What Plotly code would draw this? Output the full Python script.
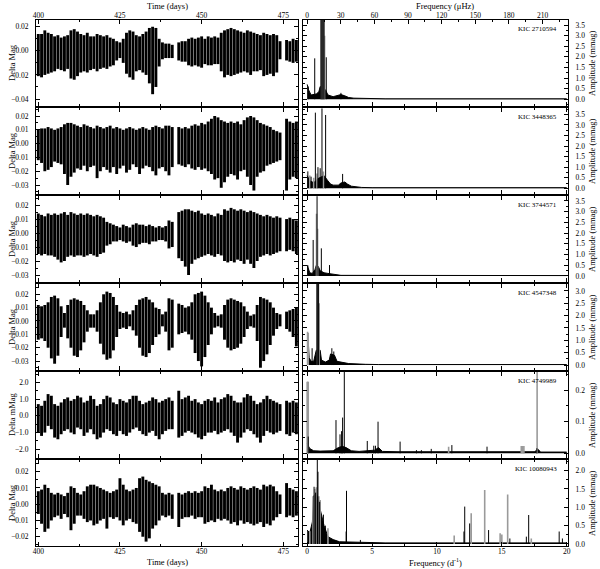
import plotly.graph_objects as go

# ---- light curves: upper / lower envelope per day (mmag), None = data gap
days = list(range(400, 480))

hi1 = [14, 14, 17, 15, 14, 12, 13, 11, 12, 13,
       17, 18, 16, 14, 13, 15, 12, 12, 14, 13,
       12, 13, 11, 10, 8, 7, 10, 15, 17, 16,
       13, 12, 14, 16, 19, 20, 19, 10, 7, 6,
       6, 5, None, 7, 8, 8, 10, 11, 10, 11,
       12, 10, 12, 11, 12, 11, 15, 17, 18, 19,
       18, 17, 16, 15, 17, 16, 15, 14, 13, 15,
       14, 13, 14, 13, 8, None, 9, 8, 10, 9]
lo1 = [-21, -22, -20, -19, -18, -17, -15, -16, -17, -15,
       -23, -24, -21, -18, -17, -18, -16, -15, -17, -15,
       -14, -15, -13, -12, -8, -6, -10, -19, -22, -24,
       -17, -16, -18, -20, -27, -36, -30, -13, -7, -6,
       -6, -6, None, -8, -9, -9, -12, -13, -12, -13,
       -14, -11, -12, -12, -11, -11, -17, -22, -20, -21,
       -20, -19, -18, -17, -18, -20, -17, -17, -16, -21,
       -20, -19, -21, -18, -7, None, -8, -9, -10, -9]

hi2 = [10, 11, 11, 12, 11, 10, 11, 12, 14, 15,
       15, 14, 13, 12, 14, 13, 12, 11, 13, 12,
       11, 12, 13, 11, 12, 11, 10, 11, 12, 11,
       10, 11, 12, 11, 10, 12, 13, 12, 11, 13,
       13, 12, None, 12, 11, 12, 11, 13, 14, 13,
       15, 14, 16, 18, 20, 19, 17, 16, 15, 16,
       15, 16, 14, 17, 19, 20, 19, 17, 15, 14,
       13, 12, 10, 9, 8, None, 18, 16, 15, 16]
lo2 = [-12, -14, -20, -19, -17, -13, -14, -15, -22, -30,
       -24, -21, -18, -19, -16, -20, -17, -16, -25, -20,
       -17, -19, -21, -17, -22, -18, -16, -21, -19, -15,
       -17, -22, -18, -16, -17, -20, -23, -18, -17, -20,
       -23, -17, None, -15, -16, -17, -15, -18, -19, -17,
       -19, -18, -20, -22, -26, -25, -32, -28, -24, -22,
       -23, -26, -20, -19, -24, -30, -34, -24, -21, -20,
       -16, -15, -14, -13, -12, None, -34, -26, -24, -25]

hi3 = [14, 13, 12, 14, 13, 14, 13, 14, 15, 13,
       15, 14, 13, 14, 13, 14, 13, 12, 13, 12,
       11, 8, 7, 6, 5, 4, 6, 5, 4, 6,
       7, 6, 6, 5, 6, 5, 4, 5, 4, 5,
       9, 8, None, 15, 16, 17, 17, 16, 15, 16,
       14, 13, 14, 13, 12, 14, 13, 17, 16, 18,
       17, 16, 17, 16, 15, 16, 15, 14, 13, 12,
       13, 12, 11, 12, 11, None, 10, 11, 10, 9]
lo3 = [-15, -16, -15, -16, -16, -17, -19, -21, -20, -17,
       -16, -17, -16, -16, -17, -16, -15, -16, -17, -15,
       -14, -9, -8, -6, -6, -5, -6, -7, -6, -9,
       -10, -8, -7, -7, -8, -6, -6, -5, -5, -6,
       -11, -10, None, -18, -20, -24, -30, -22, -19, -18,
       -17, -16, -15, -16, -17, -15, -16, -20, -21, -20,
       -21, -19, -20, -22, -19, -22, -25, -20, -17, -16,
       -15, -16, -15, -14, -13, None, -13, -12, -13, -15]

hi4 = [12, 11, 12, 14, 18, 19, 17, 11, 6, 12,
       16, 17, 16, 15, 12, 8, 5, 5, 8, 14,
       20, 22, 21, 18, 12, 7, 6, 7, 5, 8,
       12, 16, 17, 18, 16, 14, 10, 9, 5, 7,
       17, 16, None, 13, 12, 10, 11, 14, 20, 21,
       22, 19, 14, 10, 6, 4, 5, 12, 16, 17,
       16, 15, 14, 11, 7, 4, 5, 12, 18, 17,
       16, 14, 10, 6, 5, None, 7, 8, 9, 10]
lo4 = [-14, -13, -15, -20, -28, -32, -26, -12, -5, -13,
       -20, -26, -27, -22, -16, -8, -5, -5, -8, -17,
       -25, -29, -28, -22, -12, -6, -5, -6, -4, -7,
       -11, -20, -26, -27, -24, -18, -12, -10, -4, -8,
       -22, -20, None, -10, -9, -8, -10, -14, -24, -30,
       -34, -27, -18, -10, -5, -4, -5, -14, -20, -22,
       -21, -20, -17, -12, -6, -4, -5, -15, -35, -30,
       -25, -18, -11, -6, -4, None, -6, -8, -12, -19]

hi5 = [0.7, 0.6, 0.9, 1.3, 1.2, 0.7, 0.6, 0.8, 1.0, 1.1,
       0.9, 1.0, 1.2, 1.1, 0.8, 0.9, 1.2, 1.0, 0.6, 0.7,
       1.0, 1.2, 1.1, 0.8, 0.7, 1.0, 0.9, 0.8, 1.0, 1.2,
       1.2, 0.9, 0.7, 0.8, 0.9, 1.1, 1.0, 0.8, 0.9, 1.0,
       1.1, 0.9, None, 1.5, 1.0, 1.1, 1.2, 0.9, 1.0, 0.8,
       0.7, 0.9, 1.0, 0.9, 1.1, 0.8, 1.0, 1.1, 1.3, 1.2,
       0.9, 0.8, 0.8, 1.1, 1.3, 1.2, 0.9, 0.7, 0.8, 1.0,
       1.2, 1.0, 0.9, 0.8, 0.7, None, 0.9, 0.8, 0.9, 0.8]
lo5 = [-1.0, -1.2, -1.0, -0.6, -0.8, -1.3, -1.4, -1.1, -0.9, -0.8,
       -1.0, -1.1, -0.7, -0.8, -1.2, -1.0, -0.8, -1.1, -1.4, -1.3,
       -1.0, -0.8, -0.9, -1.1, -1.2, -0.9, -1.1, -1.2, -1.0, -0.8,
       -0.7, -0.9, -1.1, -1.2, -1.0, -0.9, -1.2, -1.4, -1.1, -0.9,
       -0.8, -0.8, None, -1.3, -1.2, -1.0, -0.9, -1.0, -1.1, -1.3,
       -1.4, -1.2, -1.0, -1.0, -0.9, -1.1, -1.0, -0.9, -0.8, -1.0,
       -1.2, -1.6, -1.3, -1.0, -0.8, -0.9, -1.1, -1.3, -1.6, -1.2,
       -0.9, -1.0, -1.1, -1.0, -0.9, None, -1.1, -1.2, -1.0, -1.1]

hi6 = [8, 9, 12, 10, 7, 6, 7, 6, 5, 7,
       11, 10, 7, 6, 8, 11, 12, 12, 11, 10,
       9, 8, 7, 8, 9, 16, 12, 9, 8, 9,
       10, 16, 17, 15, 14, 13, 12, 11, 7, 6,
       7, 6, None, 7, 6, 7, 8, 7, 8, 7,
       8, 11, 10, 12, 9, 8, 9, 8, 10, 11,
       10, 9, 11, 10, 9, 10, 11, 10, 9, 12,
       11, 12, 11, 8, 6, None, 13, 10, 9, 8]
lo6 = [-6, -12, -17, -15, -10, -8, -7, -9, -6, -8,
       -16, -12, -7, -7, -9, -11, -10, -13, -12, -10,
       -9, -15, -8, -9, -8, -10, -13, -10, -9, -11,
       -12, -17, -20, -23, -21, -15, -13, -10, -7, -8,
       -7, -9, None, -14, -9, -8, -8, -7, -9, -8,
       -8, -12, -11, -10, -11, -9, -10, -9, -10, -12,
       -11, -13, -10, -12, -11, -12, -13, -12, -11, -14,
       -12, -13, -10, -8, -6, None, -8, -7, -8, -7]

# ---- amplitude spectra (frequency in d^-1, amplitude in mmag)
pk1_f = [0.08, 0.58, 1.06, 1.14, 1.22, 1.30, 1.47, 2.6]
pk1_a = [0.6, 1.93, 3.9, 3.9, 3.9, 3.9, 1.98, 0.3]
gr1_f = [1.10, 1.18, 1.26, 1.34]
gr1_a = [3.9, 3.9, 3.9, 3.0]
nz1_f = [0, 0.1, 0.3, 0.5, 0.7, 0.9, 1.0, 1.4, 1.6, 2.0, 2.3, 2.6, 2.9, 3.2, 3.6, 4.5, 6, 20]
nz1_a = [0.7, 0.45, 0.2, 0.22, 0.25, 0.35, 0.6, 0.45, 0.2, 0.12, 0.16, 0.22, 0.16, 0.08, 0.05, 0.03, 0.02, 0.02]

pk2_f = [0.05, 0.3, 0.63, 0.83, 1.0, 1.14, 1.42, 2.73]
pk2_a = [0.8, 0.55, 3.58, 1.0, 0.95, 3.78, 3.47, 0.68]
gr2_f = [0.2, 0.5, 0.75, 1.25]
gr2_a = [0.6, 0.5, 0.7, 0.8]
nz2_f = [0, 0.2, 0.4, 0.6, 0.8, 1.0, 1.3, 1.6, 1.8, 2.0, 2.4, 2.6, 2.9, 3.1, 3.4, 4.2, 5, 20]
nz2_a = [0.6, 0.35, 0.3, 0.3, 0.45, 0.5, 0.6, 0.35, 0.2, 0.15, 0.15, 0.25, 0.3, 0.2, 0.1, 0.04, 0.03, 0.03]

pk3_f = [0.05, 0.46, 0.76, 1.09, 1.72]
pk3_a = [0.5, 1.68, 3.72, 1.29, 0.51]
gr3_f = [0.72, 0.8]
gr3_a = [2.9, 2.2]
nz3_f = [0, 0.2, 0.4, 0.6, 0.7, 0.85, 1.0, 1.3, 1.6, 1.8, 2.2, 2.6, 20]
nz3_a = [0.5, 0.15, 0.12, 0.3, 0.5, 0.45, 0.25, 0.15, 0.12, 0.1, 0.05, 0.03, 0.02]

pk4_f = [0.38, 0.75, 0.82, 0.88, 1.9, 2.05]
pk4_a = [0.68, 3.3, 3.3, 3.3, 0.68, 0.55]
gr4_f = [0.03, 0.08, 0.78, 0.92]
gr4_a = [1.35, 1.3, 3.3, 2.5]
nz4_f = [0, 0.05, 0.15, 0.3, 0.5, 0.6, 0.7, 1.0, 1.1, 1.4, 1.7, 1.8, 2.1, 2.3, 2.7, 3.2, 4.5, 5.5, 20]
nz4_a = [1.3, 1.3, 0.3, 0.15, 0.15, 0.4, 0.6, 0.6, 0.2, 0.12, 0.2, 0.45, 0.4, 0.15, 0.1, 0.06, 0.03, 0.02, 0.02]

pk5_f = [0.08, 2.22, 2.53, 2.65, 2.73, 2.86, 4.63, 5.13, 5.26, 5.46, 7.16, 8.42, 8.8, 9.56, 11.15, 13.86, 17.7]
pk5_a = [0.053, 0.105, 0.06, 0.07, 0.113, 0.26, 0.039, 0.024, 0.024, 0.1, 0.037, 0.01, 0.01, 0.014, 0.026, 0.021, 0.016]
gr5_f = [0.0, 0.04, 0.08, 10.9, 16.5, 16.6, 16.7, 17.72]
gr5_a = [0.226, 0.226, 0.226, 0.021, 0.023, 0.023, 0.023, 0.26]
nz5_f = [0, 0.2, 0.5, 1, 2, 2.4, 2.7, 3.0, 3.4, 4, 5.2, 5.5, 5.8, 7, 17.5, 17.8, 18, 20]
nz5_a = [0.03, 0.015, 0.008, 0.007, 0.008, 0.018, 0.022, 0.018, 0.008, 0.006, 0.01, 0.018, 0.006, 0.005, 0.005, 0.012, 0.004, 0.004]

pk6_f = [0.53, 0.65, 0.78, 0.83, 0.96, 1.25, 1.4, 3.0, 3.03, 4.1, 12.08, 12.14, 12.52, 13.98, 15.62, 16.89, 17.07, 19.42, 19.67]
pk6_a = [1.56, 1.4, 2.3, 1.97, 1.15, 0.8, 0.5, 0.34, 1.45, 0.11, 0.34, 1.02, 0.56, 0.38, 0.15, 0.2, 0.79, 0.34, 0.15]
gr6_f = [0.2, 0.45, 0.6, 0.7, 0.9, 1.0, 1.6, 11.33, 12.64, 13.68, 14.87, 15.0, 15.45, 17.27]
gr6_a = [0.35, 1.3, 1.5, 1.55, 1.3, 1.2, 0.43, 0.23, 0.84, 1.47, 0.29, 0.26, 1.35, 0.15]
nz6_f = [0, 0.2, 0.4, 0.5, 0.7, 0.9, 1.1, 1.3, 1.6, 2.0, 2.5, 3.5, 4.5, 6, 20]
nz6_a = [0.38, 0.3, 0.6, 1.3, 1.4, 1.1, 0.8, 0.5, 0.2, 0.12, 0.06, 0.05, 0.06, 0.03, 0.03]

kic = ["KIC 2710594", "KIC 3448365", "KIC 3744571", "KIC 4547348", "KIC 4749989", "KIC 10080943"]

curves = [(hi1, lo1), (hi2, lo2), (hi3, lo3), (hi4, lo4), (hi5, lo5), (hi6, lo6)]
spectra = [(pk1_f, pk1_a, gr1_f, gr1_a, nz1_f, nz1_a),
           (pk2_f, pk2_a, gr2_f, gr2_a, nz2_f, nz2_a),
           (pk3_f, pk3_a, gr3_f, gr3_a, nz3_f, nz3_a),
           (pk4_f, pk4_a, gr4_f, gr4_a, nz4_f, nz4_a),
           (pk5_f, pk5_a, gr5_f, gr5_a, nz5_f, nz5_a),
           (pk6_f, pk6_a, gr6_f, gr6_a, nz6_f, nz6_a)]

# axis settings per row
lc_scale = [1e-3, 1e-3, 1e-3, 1e-3, 1.0, 1e-3]
lc_range = [[-0.0458, 0.0256], [-0.0365, 0.0258], [-0.035, 0.0265],
            [-0.0367, 0.0277], [-2.52, 2.62], [-0.0257, 0.0272]]
lc_dtick = [0.02, 0.01, 0.01, 0.01, 1.0, 0.01]
lc_fmt = [".2f", ".2f", ".2f", ".2f", ".1f", ".2f"]
lc_title = ["Delta Mag"] * 4 + ["Delta mMag", "Delta Mag"]
sp_range = [[-0.32, 3.74], [-0.27, 3.8], [-0.28, 3.73], [-0.2, 3.28], [-0.0148, 0.257], [-0.055, 2.29]]
sp_dtick = [0.5, 0.5, 0.5, 0.5, 0.1, 0.5]

W, H = 600, 569
ML, MR, MT, MB = 36, 32, 20, 23
PW, PH = W - ML - MR, H - MT - MB
FONT = "Liberation Serif"
X_RANGE_F = [-0.3, 20.1]
UHZ = 11.574


def segs(x, lo, hi, k):
    xs, ys = [], []
    for xi, a, b in zip(x, lo, hi):
        if a is None or b is None:
            continue
        xs += [xi, xi, None]
        ys += [a * k, b * k, None]
    return xs, ys


fig = go.Figure()
ax = dict(showgrid=False, zeroline=False, showline=True, linecolor="black", linewidth=1,
          mirror="ticks", ticks="inside", ticklen=4, tickcolor="black", automargin=False,
          tickfont=dict(family=FONT, size=7.5, color="black"))
xax = dict(ax, ticklabelstandoff=-2)
yax = dict(ax, ticklabelstandoff=5)

annos = []
for i in range(6):
    top = round(1 - i * 88 / PH, 6)
    bot = max(0.0, round(top - 86 / PH, 6))
    xl, yl, xr, yr = 2 * i + 1, 2 * i + 1, 2 * i + 2, 2 * i + 2

    hi, lo = curves[i]
    xs, ys = segs(days, lo, hi, lc_scale[i])
    fig.add_trace(go.Scatter(x=xs, y=ys, mode="lines", line=dict(color="black", width=2.9),
                             xaxis=f"x{xl}", yaxis=f"y{yl}", showlegend=False, hoverinfo="skip"))

    pf, pa, gf, ga, nf, na = spectra[i]
    fig.add_trace(go.Scatter(x=nf, y=na, mode="lines", fill="tozeroy", fillcolor="black",
                             line=dict(color="black", width=1),
                             xaxis=f"x{xr}", yaxis=f"y{yr}", showlegend=False, hoverinfo="skip"))
    xs, ys = segs(gf, [0] * len(gf), ga, 1)
    fig.add_trace(go.Scatter(x=xs, y=ys, mode="lines", line=dict(color="#9a9a9a", width=1.6),
                             xaxis=f"x{xr}", yaxis=f"y{yr}", showlegend=False, hoverinfo="skip"))
    xs, ys = segs(pf, [0] * len(pf), pa, 1)
    fig.add_trace(go.Scatter(x=xs, y=ys, mode="lines", line=dict(color="black", width=1),
                             xaxis=f"x{xr}", yaxis=f"y{yr}", showlegend=False, hoverinfo="skip"))

    # left panel axes
    fig.layout[f"xaxis{xl}"] = dict(xax, domain=[0, 262 / PW], range=[399.3, 479.5], anchor=f"y{yl}",
                                    tickvals=[400, 425, 450, 475], minor=dict(dtick=12.5, tick0=400, ticks="inside", ticklen=2),
                                    showticklabels=(i in (0, 5)), side="top" if i == 0 else "bottom")
    fig.layout[f"yaxis{yl}"] = dict(yax, domain=[bot, top], range=lc_range[i], anchor=f"x{xl}",
                                    dtick=lc_dtick[i], tick0=0, tickformat=lc_fmt[i],
                                    minor=dict(dtick=lc_dtick[i] / 2, ticks="inside", ticklen=2))
    # right panel axes
    fig.layout[f"xaxis{xr}"] = dict(xax, domain=[(303.3 - ML) / PW, 1], range=X_RANGE_F, anchor=f"y{yr}",
                                    dtick=5, tick0=0, minor=dict(dtick=2.5, ticks="inside", ticklen=2),
                                    showticklabels=(i == 5), mirror=True if i == 0 else "ticks")
    fig.layout[f"yaxis{yr}"] = dict(yax, domain=[bot, top], range=sp_range[i], anchor=f"x{xr}", side="right",
                                    dtick=sp_dtick[i], tick0=0, tickformat=".1f",
                                    minor=dict(dtick=sp_dtick[i] / 2, ticks="inside", ticklen=2))

    ymid = (bot + top) / 2
    annos.append(dict(text=lc_title[i], x=(12 - ML) / PW, y=ymid, xref="paper", yref="paper",
                      xanchor="center", yanchor="middle",
                      textangle=-90, showarrow=False, font=dict(family=FONT, size=8.5, color="black")))
    annos.append(dict(text="Amplitude (mmag)", x=(592 - ML) / PW, y=ymid, xref="paper", yref="paper",
                      xanchor="center", yanchor="middle",
                      textangle=-90, showarrow=False, font=dict(family=FONT, size=8.5, color="black")))
    annos.append(dict(text=kic[i], x=(559 - ML) / PW, y=top - 3 / PH, xref="paper", yref="paper",
                      xanchor="right", yanchor="top", showarrow=False,
                      font=dict(family=FONT, size=7, color="black")))

# top frequency axis in microHz
fig.layout["xaxis13"] = dict(xax, overlaying="x2", anchor="y2", side="top",
                             range=[X_RANGE_F[0] * UHZ, X_RANGE_F[1] * UHZ],
                             tickvals=list(range(0, 211, 30)), mirror=False,
                             minor=dict(dtick=15, tick0=0, ticks="inside", ticklen=2))
fig.add_trace(go.Scatter(x=[0], y=[0], xaxis="x13", yaxis="y2", mode="markers",
                         marker=dict(opacity=0), showlegend=False, hoverinfo="skip"))

tf = dict(family=FONT, size=8.5, color="black")
ttl = dict(xref="paper", yref="paper", xanchor="center", yanchor="middle", showarrow=False, font=tf)
annos += [
    dict(ttl, text="Time (days)", x=(167 - ML) / PW, y=(H - MB - 6) / PH),
    dict(ttl, text="Frequency (\u03bcHz)", x=(445 - ML) / PW, y=(H - MB - 6) / PH),
    dict(ttl, text="Time (days)", x=(167 - ML) / PW, y=(H - MB - 562) / PH),
    dict(ttl, text="Frequency (d<sup>-1</sup>)", x=(435 - ML) / PW, y=(H - MB - 562) / PH),
]

fig.update_layout(width=W, height=H, margin=dict(l=ML, r=MR, t=MT, b=MB, autoexpand=False),
                  paper_bgcolor="white", plot_bgcolor="white", annotations=annos,
                  font=dict(family=FONT, size=8, color="black"))

fig.write_html("out.html", config={"displayModeBar": False},
               post_script="document.body.style.margin='0px';")
